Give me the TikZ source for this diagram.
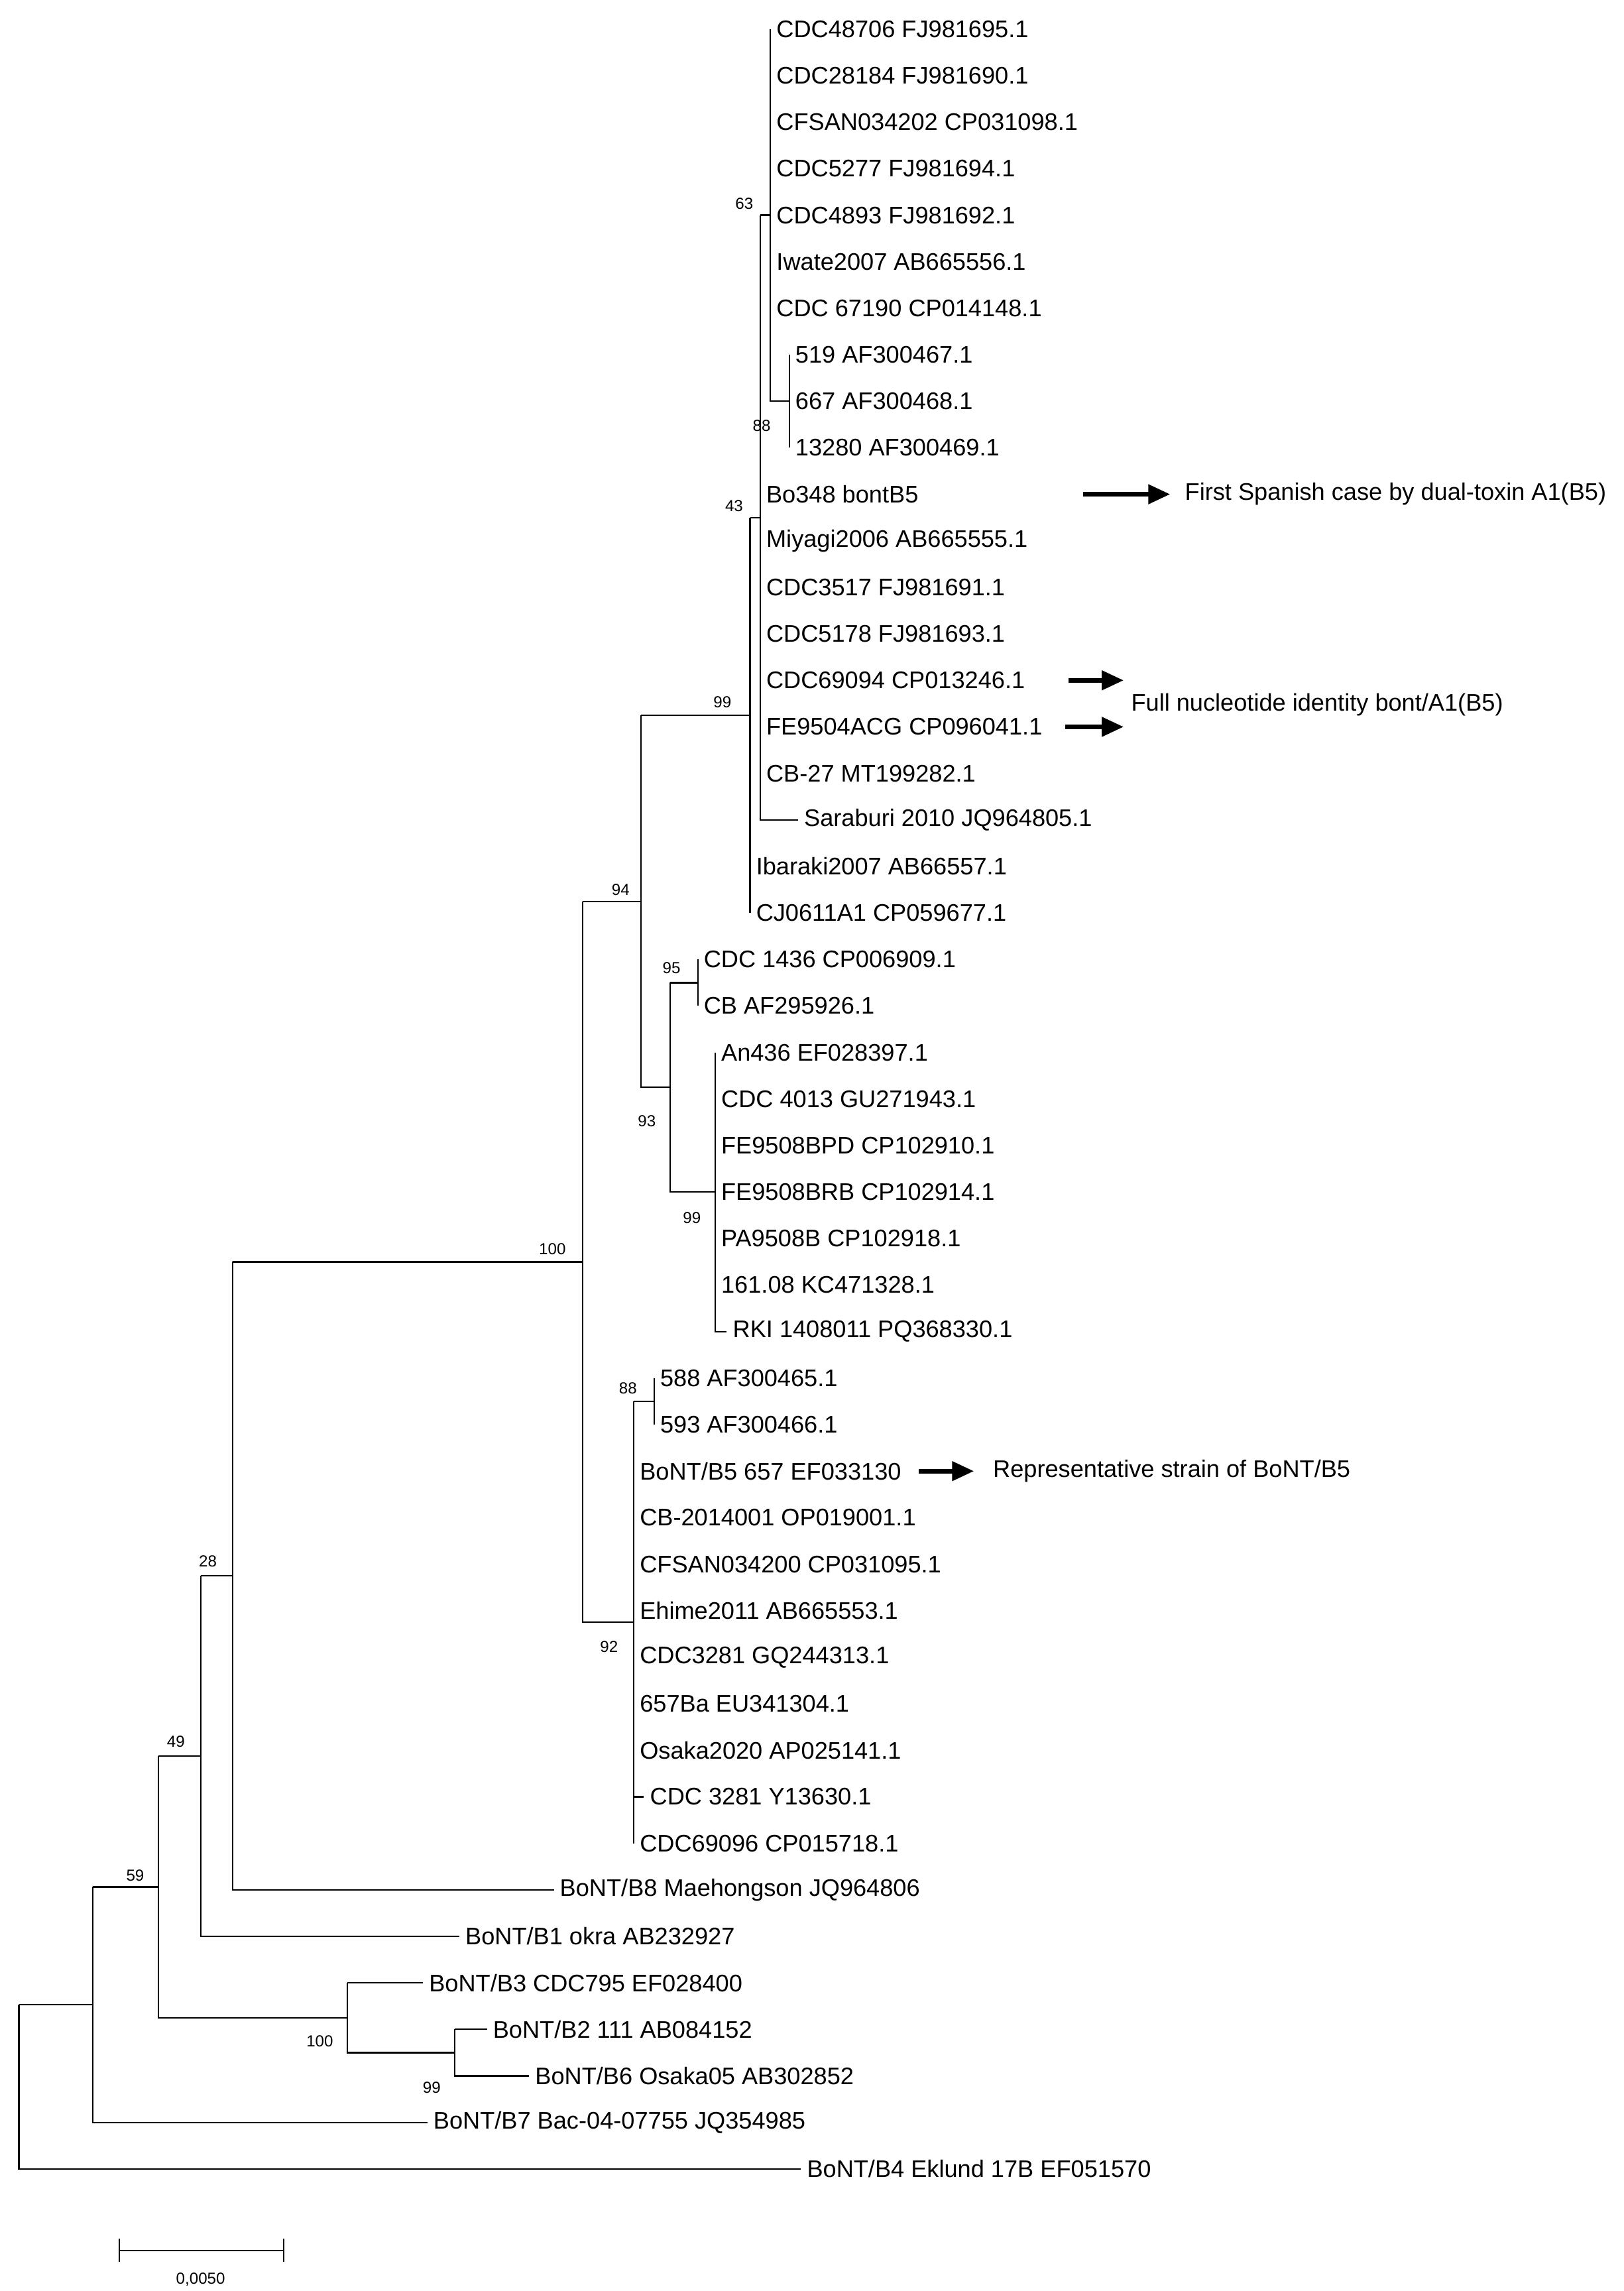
\documentclass[tikz,border=0pt]{standalone}
\usepackage{fontspec}
\setmainfont{Liberation Sans}
\usetikzlibrary{arrows.meta}
\begin{document}
\begin{tikzpicture}[x=1pt,y=-1pt,
  br/.style={line width=1pt,black},
  lf/.style={anchor=west,inner xsep=4pt,inner ysep=0pt,font=\fontsize{16.5}{16.5}\selectfont},
  bs/.style={font=\fontsize{11}{11}\selectfont,inner sep=0pt},
  note/.style={anchor=west,inner sep=0pt,font=\fontsize{16.5}{16.5}\selectfont},
  arr/.style={line width=3pt,-{Triangle[length=15pt,width=13pt]}}]
\useasboundingbox[fill=white] (0,0) rectangle (1117,1576);
% internal nodes
\coordinate (B) at (543,276);
\coordinate (A) at (530,148);
\coordinate (C) at (523,356);
\coordinate (D) at (516,492);
\coordinate (E) at (480,676);
\coordinate (F) at (492,820);
\coordinate (N93) at (461,748);
\coordinate (N94) at (441,620);
\coordinate (G) at (450,964);
\coordinate (N92) at (436,1116);
\coordinate (N100) at (401,868);
\coordinate (N28) at (160,1084);
\coordinate (N49) at (138,1208);
\coordinate (N99b) at (313,1412);
\coordinate (N100b) at (239,1388);
\coordinate (N59) at (109,1298);
\coordinate (N64) at (64,1379);
\coordinate (R) at (13,1435.5);
% leaves
\node[lf] (l0) at (530,20) {CDC48706 FJ981695.1};
\node[lf] (l1) at (530,52) {CDC28184 FJ981690.1};
\node[lf] (l2) at (530,84) {CFSAN034202 CP031098.1};
\node[lf] (l3) at (530,116) {CDC5277 FJ981694.1};
\node[lf] (l4) at (530,148) {CDC4893 FJ981692.1};
\node[lf] (l5) at (530,180) {Iwate2007 AB665556.1};
\node[lf] (l6) at (530,212) {CDC 67190 CP014148.1};
\node[lf] (l7) at (543,244) {519 AF300467.1};
\node[lf] (l8) at (543,276) {667 AF300468.1};
\node[lf] (l9) at (543,308) {13280 AF300469.1};
\node[lf] (l10) at (523,340) {Bo348 bontB5};
\node[lf] (l11) at (523,372) {Miyagi2006 AB665555.1};
\node[lf] (l12) at (523,404) {CDC3517 FJ981691.1};
\node[lf] (l13) at (523,436) {CDC5178 FJ981693.1};
\node[lf] (l14) at (523,468) {CDC69094 CP013246.1};
\node[lf] (l15) at (523,500) {FE9504ACG CP096041.1};
\node[lf] (l16) at (523,532) {CB-27 MT199282.1};
\node[lf] (l17) at (549,564) {Saraburi 2010 JQ964805.1};
\node[lf] (l18) at (516,596) {Ibaraki2007 AB66557.1};
\node[lf] (l19) at (516,628) {CJ0611A1 CP059677.1};
\node[lf] (l20) at (480,660) {CDC 1436 CP006909.1};
\node[lf] (l21) at (480,692) {CB AF295926.1};
\node[lf] (l22) at (492,724) {An436 EF028397.1};
\node[lf] (l23) at (492,756) {CDC 4013 GU271943.1};
\node[lf] (l24) at (492,788) {FE9508BPD CP102910.1};
\node[lf] (l25) at (492,820) {FE9508BRB CP102914.1};
\node[lf] (l26) at (492,852) {PA9508B CP102918.1};
\node[lf] (l27) at (492,884) {161.08 KC471328.1};
\node[lf] (l28) at (500,916) {RKI 1408011 PQ368330.1};
\node[lf] (l29) at (450,948) {588 AF300465.1};
\node[lf] (l30) at (450,980) {593 AF300466.1};
\node[lf] (l31) at (436,1012) {BoNT/B5 657 EF033130};
\node[lf] (l32) at (436,1044) {CB-2014001 OP019001.1};
\node[lf] (l33) at (436,1076) {CFSAN034200 CP031095.1};
\node[lf] (l34) at (436,1108) {Ehime2011 AB665553.1};
\node[lf] (l35) at (436,1140) {CDC3281 GQ244313.1};
\node[lf] (l36) at (436,1172) {657Ba EU341304.1};
\node[lf] (l37) at (436,1204) {Osaka2020 AP025141.1};
\node[lf] (l38) at (443,1236) {CDC 3281 Y13630.1};
\node[lf] (l39) at (436,1268) {CDC69096 CP015718.1};
\node[lf] (l40) at (381,1300) {BoNT/B8 Maehongson JQ964806};
\node[lf] (l41) at (316,1332) {BoNT/B1 okra AB232927};
\node[lf] (l42) at (291,1364) {BoNT/B3 CDC795 EF028400};
\node[lf] (l43) at (335,1396) {BoNT/B2 111 AB084152};
\node[lf] (l44) at (364,1428) {BoNT/B6 Osaka05 AB302852};
\node[lf] (l45) at (294,1460) {BoNT/B7 Bac-04-07755 JQ354985};
\node[lf] (l46) at (551,1492) {BoNT/B4 Eklund 17B EF051570};
% branches
\draw[br] (l0.west) -- (l6.west) -- (A |- B) -- (B);
\draw[br] (l7.west) -- (l9.west);
\draw[br] (C |- A) -- (A);
\draw[br] (C |- A) -- (C |- l17) -- (l17.west);
\draw[br] (D |- C) -- (C);
\draw[br] (D |- C) -- (l19.west);
\draw[br] (N94 |- D) -- (D);
\draw[br] (N94 |- D) -- (N94 |- N93) -- (N93);
\draw[br] (N93 |- E) -- (N93 |- F) -- (F);
\draw[br] (N93 |- E) -- (E);
\draw[br] (l20.west) -- (l21.west);
\draw[br] (l22.west) -- (F |- l28) -- (l28.west);
\draw[br] (N100 |- N94) -- (N94);
\draw[br] (N100 |- N94) -- (N100 |- N92) -- (N92);
\draw[br] (N92 |- G) -- (G);
\draw[br] (N92 |- G) -- (N92 |- l39) -- (l39.west);
\draw[br] (N92 |- l38) -- (l38.west);
\draw[br] (l29.west) -- (l30.west);
\draw[br] (N28 |- N100) -- (N100);
\draw[br] (N28 |- N100) -- (N28 |- l40) -- (l40.west);
\draw[br] (N49 |- N28) -- (N28);
\draw[br] (N49 |- N28) -- (N49 |- l41) -- (l41.west);
\draw[br] (N59 |- N49) -- (N49);
\draw[br] (N59 |- N49) -- (N59 |- N100b) -- (N100b);
\draw[br] (N100b |- l42) -- (l42.west);
\draw[br] (N100b |- l42) -- (N100b |- N99b) -- (N99b);
\draw[br] (N99b |- l43) -- (l43.west);
\draw[br] (N99b |- l43) -- (N99b |- l44) -- (l44.west);
\draw[br] (N64 |- N59) -- (N59);
\draw[br] (N64 |- N59) -- (N64 |- l45) -- (l45.west);
\draw[br] (R |- N64) -- (N64);
\draw[br] (R |- N64) -- (R |- l46) -- (l46.west);
% bootstrap values
\node[bs] (b1) at (512,140) {63};
\node[bs] (b2) at (524,293) {88};
\node[bs] (b3) at (505,348) {43};
\node[bs] (b4) at (497,483) {99};
\node[bs] (b5) at (427,612) {94};
\node[bs] (b6) at (462,666) {95};
\node[bs] (b7) at (445,771) {93};
\node[bs] (b8) at (476,838) {99};
\node[bs] (b9) at (380,859) {100};
\node[bs] (b10) at (432,955) {88};
\node[bs] (b11) at (419,1133) {92};
\node[bs] (b12) at (143,1074) {28};
\node[bs] (b13) at (121,1198) {49};
\node[bs] (b14) at (93,1290) {59};
\node[bs] (b15) at (220,1404) {100};
\node[bs] (b16) at (297,1436) {99};
% annotations
\coordinate (a1s) at (745,340); \coordinate (a1e) at (805,340);
\coordinate (a2s) at (735,468); \coordinate (a2e) at (773,468);
\coordinate (a3s) at (733,500); \coordinate (a3e) at (773,500);
\coordinate (a4s) at (632,1012); \coordinate (a4e) at (670,1012);
\draw[arr] (a1s) -- (a1e);
\draw[arr] (a2s) -- (a2e);
\draw[arr] (a3s) -- (a3e);
\draw[arr] (a4s) -- (a4e);
\node[note] (n1) at (815,340) {First Spanish case by dual-toxin A1(B5)};
\node[note] (n2) at (778,485) {Full nucleotide identity bont/A1(B5)};
\node[note] (n3) at (683,1012) {Representative strain of BoNT/B5};
% scale bar
\coordinate (s1) at (82,1548); \coordinate (s2) at (195,1548);
\draw[br] (s1) -- (s2);
\draw[br] ([yshift=-8]s1) -- ([yshift=8]s1);
\draw[br] ([yshift=-8]s2) -- ([yshift=8]s2);
\node[bs] (sl) at (138,1568) {0,0050};
\end{tikzpicture}
\end{document}
